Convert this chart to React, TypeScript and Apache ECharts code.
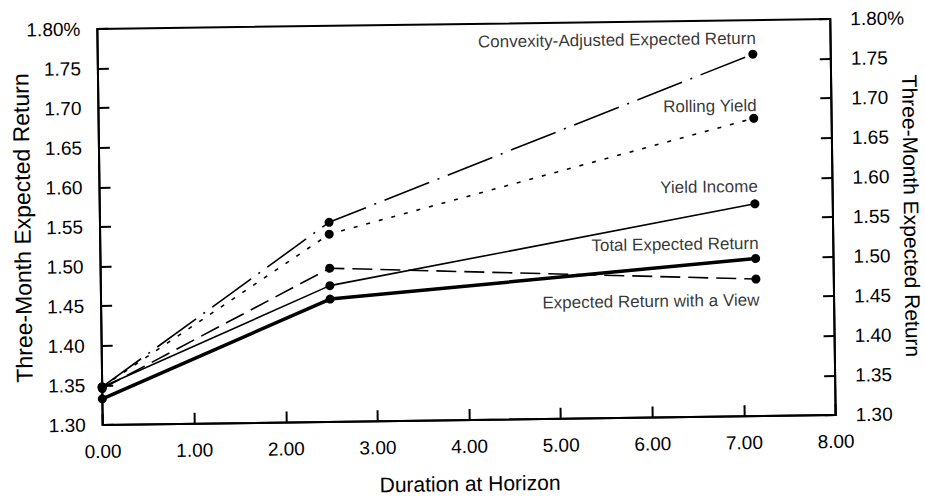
import React, { useEffect, useRef } from "react";
import * as echarts from "echarts";

// Duration at horizon (x) for the three observation points
const durations = [0, 2.5, 7.15];

// Three-month expected return (%) per strategy
const convexityAdjusted = [1.348, 1.552, 1.757];
const rollingYield = [1.348, 1.537, 1.676];
const yieldIncome = [1.348, 1.472, 1.568];
const totalExpected = [1.333, 1.455, 1.499];
const withView = [1.346, 1.494, 1.473];

const seriesNames = [
  "Convexity-Adjusted Expected Return",
  "Rolling Yield",
  "Yield Income",
  "Total Expected Return",
  "Expected Return with a View",
];

// Where each series' text label sits (data coordinates)
const labelAnchorX = 7.19;
const labelAnchorY = [1.777, 1.692, 1.59, 1.518, 1.4465];

const yMin = 1.3;
const yMax = 1.8;
const yStep = 0.05;
const xMin = 0;
const xMax = 8;
const xStep = 1;

const FONT = "'Liberation Sans', Arial, Helvetica, sans-serif";

export default function App() {
  const ref = useRef<HTMLDivElement>(null);

  useEffect(() => {
    document.body.style.margin = "0";
    if (!ref.current) return;
    const chart = echarts.init(ref.current, undefined, { renderer: "svg" });

    const pts = (vals: number[]) => durations.map((d, i) => [d, vals[i]]);
    const values = [convexityAdjusted, rollingYield, yieldIncome, totalExpected, withView];
    const styles: any[] = [
      { width: 1.6, type: [48, 9, 2, 9] },
      { width: 1.6, type: [4, 9] },
      { width: 1.6, type: "solid" },
      { width: 3.5, type: "solid" },
      { width: 1.6, type: [20, 8] },
    ];

    const yLabel = (v: number) =>
      Math.abs(v - yMax) < 1e-6 ? v.toFixed(2) + "%" : v.toFixed(2);

    const yAxisCommon = {
      type: "value",
      min: yMin,
      max: yMax,
      interval: yStep,
      nameMoveOverlap: false,
      splitLine: { show: false },
      axisLine: { show: true, lineStyle: { color: "#000", width: 2 } },
      axisTick: { show: true, inside: true, length: 11, lineStyle: { color: "#000", width: 2 } },
    };

    chart.setOption({
      animation: false,
      backgroundColor: "#fff",
      textStyle: { fontFamily: FONT, color: "#000" },
      grid: {
        left: 100,
        right: 92,
        top: 24,
        bottom: 84,
        containLabel: false,
        outerBoundsMode: "none",
        show: true,
        borderColor: "#000",
        borderWidth: 2,
        backgroundColor: "transparent",
      },
      xAxis: {
        type: "value",
        min: xMin,
        max: xMax,
        interval: xStep,
        name: "Duration at Horizon",
        nameLocation: "middle",
        nameGap: 53,
        nameMoveOverlap: false,
        nameTextStyle: { fontSize: 21, color: "#000", fontFamily: FONT },
        splitLine: { show: false },
        axisLine: { show: true, lineStyle: { color: "#000", width: 2 } },
        axisTick: { show: true, inside: true, length: 11, lineStyle: { color: "#000", width: 2 } },
        axisLabel: {
          margin: 17,
          fontSize: 19,
          color: "#000",
          fontFamily: FONT,
          formatter: (v: number) => v.toFixed(2),
        },
      },
      yAxis: [
        {
          ...yAxisCommon,
          position: "left",
          name: "Three-Month Expected Return",
          nameLocation: "middle",
          nameGap: 66,
          nameTextStyle: { fontSize: 23, color: "#000", fontFamily: FONT },
          axisLabel: { margin: 17, fontSize: 19, color: "#000", fontFamily: FONT, formatter: yLabel },
        },
        {
          ...yAxisCommon,
          position: "right",
          name: "Three-Month Expected Return",
          nameLocation: "middle",
          nameRotate: -90,
          nameGap: 68,
          nameTextStyle: { fontSize: 21, color: "#000", fontFamily: FONT },
          axisLabel: { margin: 20, fontSize: 19, color: "#000", fontFamily: FONT, formatter: yLabel },
        },
      ],
      series: [
        ...values.map((vals, i) => ({
          name: seriesNames[i],
          type: "line",
          yAxisIndex: 0,
          data: pts(vals),
          symbol: "circle",
          symbolSize: 9,
          showSymbol: true,
          itemStyle: { color: "#000" },
          lineStyle: { color: "#000", ...styles[i] },
          silent: true,
          z: 3,
        })),
        {
          type: "scatter",
          yAxisIndex: 0,
          symbolSize: 1,
          itemStyle: { color: "rgba(0,0,0,0)" },
          silent: true,
          data: labelAnchorY.map((y, i) => ({ value: [labelAnchorX, y], name: seriesNames[i] })),
          label: {
            show: true,
            position: "left",
            distance: 0,
            formatter: "{b}",
            fontSize: 17,
            color: "#000",
            fontFamily: FONT,
          },
          z: 4,
        },
      ],
    });

    return () => chart.dispose();
  }, []);

  return (
    <div
      style={{
        width: 925,
        height: 504,
        background: "#fff",
        transform: "rotate(-0.78deg)",
        transformOrigin: "466px 222px",
      }}
    >
      <div ref={ref} style={{ width: 925, height: 504 }} />
    </div>
  );
}
